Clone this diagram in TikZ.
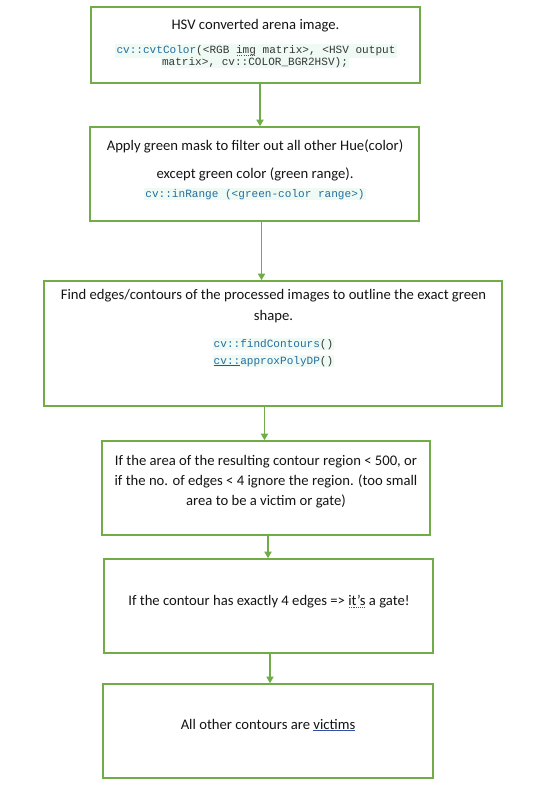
\documentclass[tikz,border=0pt]{standalone}
\usepackage{fontspec}
\setmainfont{Carlito}
\setmonofont{Liberation Mono}
\usetikzlibrary{arrows.meta}
\definecolor{boxgreen}{RGB}{112,173,71}
\definecolor{codeblue}{RGB}{36,110,160}
\definecolor{codegray}{RGB}{55,55,55}
\definecolor{codebg}{RGB}{238,250,243}
\definecolor{inkblue}{RGB}{50,80,170}
\definecolor{spellred}{RGB}{210,30,30}
\newcommand{\hl}[1]{{\setlength{\fboxsep}{0.8pt}\colorbox{codebg}{#1}}}
% underline marks: plain, dotted, wavy
\newcommand{\lineunder}[2]{\setbox0\hbox{#2}\rlap{\textcolor{#1}{\rule[-1.6pt]{\wd0}{0.5pt}}}\box0{}}
\newcommand{\dotunder}[2]{\setbox0\hbox{#2}\rlap{\textcolor{#1}{\hbox to \wd0{\leaders\hbox to 1.4pt{\hss\rule[-1.8pt]{0.6pt}{0.6pt}\hss}\hfill}}}\box0{}}
\newcommand{\waveunder}[2]{\setbox0\hbox{#2}\rlap{\color{#1}\hbox to \wd0{\leaders\hbox to 1.6pt{\rule[-2.6pt]{0.8pt}{0.6pt}\rule[-1.9pt]{0.8pt}{0.6pt}}\hfill}}\box0{}}
\tikzset{
  stage/.style={draw=boxgreen, line width=1.2pt, inner sep=0pt},
  txt/.style={anchor=base, inner sep=0pt, text=black!92, font=\fontsize{11}{13}\selectfont},
  code/.style={anchor=base, inner sep=0pt, text=codegray, font=\fontsize{8.3}{9.8}\selectfont\ttfamily},
  flow/.style={draw=boxgreen, line width=0.8pt, -{Triangle[width=5.5pt,length=5pt]}}
}

\begin{document}
\begin{tikzpicture}[x=0.75pt, y=-0.75pt]
    \useasboundingbox (0,0) rectangle (540,794);
    % the six stages
    \node[stage, minimum width=246.75pt, minimum height=57pt] (hsv) at (255.5,45) {};
    \node[stage, minimum width=246.75pt, minimum height=70.5pt] (mask) at (254.5,174) {};
    \node[stage, minimum width=343.5pt, minimum height=93.75pt] (edges) at (273,343.5) {};
    \node[stage, minimum width=246pt, minimum height=70.5pt] (small) at (266,488) {};
    \node[stage, minimum width=246.75pt, minimum height=70.5pt] (gate) at (268.5,606) {};
    \node[stage, minimum width=247.5pt, minimum height=70.5pt] (victim) at (268,731) {};

    % texts
    \node[txt] (hsvT) at (255.5,29) {HSV converted arena image.};
    \node[code] (hsvC1) at (256,53) {\hl{\textcolor{codeblue}{cv::cvtColor}(<RGB \waveunder{spellred}{img} matrix>, <HSV output}};
    \node[code] (hsvC2) at (255,65) {\hl{matrix>, cv::COLOR\_BGR2HSV);}};

    \node[txt] (maskT1) at (255,150) {Apply green mask to filter out all other Hue(color)};
    \node[txt] (maskT2) at (255,178) {except green color (green range).};
    \node[code, text=codeblue] (maskC) at (255,197) {\hl{cv::inRange (<green-color range>)}};

    \node[txt] (edgesT1) at (273.5,299) {Find edges/contours of the processed images to outline the exact green};
    \node[txt] (edgesT2) at (273.5,320) {shape.};
    \node[code] (edgesC1) at (273.5,347) {\hl{\textcolor{codeblue}{cv::findContours}()}};
    \node[code] (edgesC2) at (273.5,364) {\hl{\lineunder{inkblue}{\textcolor{codeblue}{cv::}}\textcolor{codeblue}{approxPolyDP}()}};

    \node[txt] (smallT1) at (266,465) {If the area of the resulting contour region < 500, or};
    \node[txt] (smallT2) at (266,485) {if the no. of edges < 4 ignore the region. (too small};
    \node[txt] (smallT3) at (266,505) {area to be a victim or gate)};

    \node[txt] (gateT) at (269,605) {If the contour has exactly 4 edges => \dotunder{inkblue}{it’s} a gate!};

    \node[txt] (victimT) at (268,729) {All other contours are \lineunder{inkblue}{victims}};

    % arrows
    \coordinate (a1) at (260,0);
    \coordinate (a2) at (261.5,0);
    \coordinate (a3) at (264.5,0);
    \coordinate (a4) at (268,0);
    \coordinate (a5) at (270,0);
    \draw[flow] (hsv.south -| a1) -- (mask.north -| a1);
    \draw[flow] (mask.south -| a2) -- (edges.north -| a2);
    \draw[flow] (edges.south -| a3) -- (small.north -| a3);
    \draw[flow] (small.south -| a4) -- (gate.north -| a4);
    \draw[flow] (gate.south -| a5) -- (victim.north -| a5);
\end{tikzpicture}
\end{document}
